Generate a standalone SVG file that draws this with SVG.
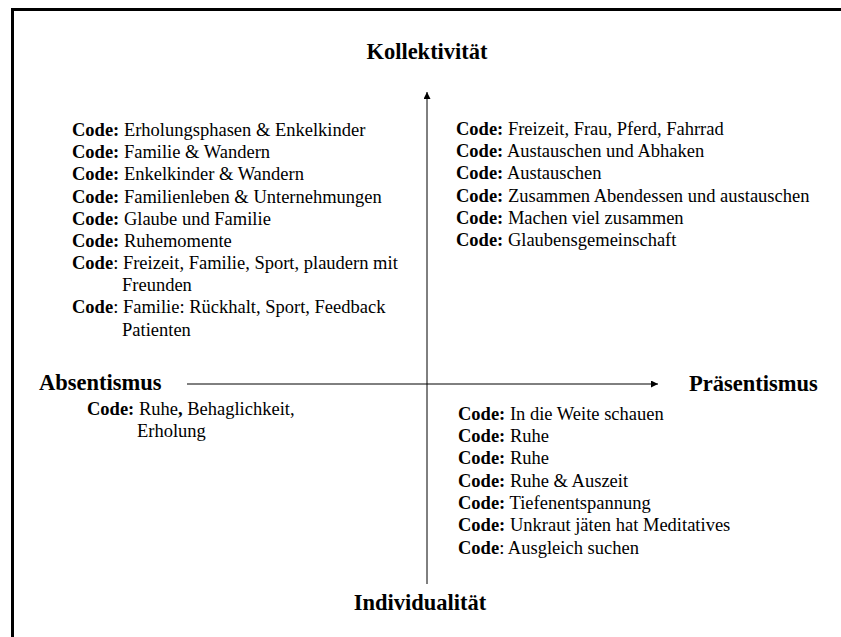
<svg xmlns="http://www.w3.org/2000/svg" width="841" height="637" viewBox="0 0 841 637">
  <defs>
    <marker id="arrow" viewBox="0 0 10 10" refX="10" refY="5" markerWidth="7" markerHeight="7" markerUnits="userSpaceOnUse" orient="auto">
      <path d="M0,0 L10,5 L0,10 z" fill="#000"/>
    </marker>
  </defs>
  <style>
    .frame { fill: none; stroke: #000; stroke-width: 3; }
    .axis { fill: none; stroke: #000; stroke-width: 1; marker-end: url(#arrow); }
    .title { font-family: "Liberation Serif", "Times New Roman", serif; font-size: 22.5px; font-weight: bold; fill: #000; }
    .body { font-family: "Liberation Serif", "Times New Roman", serif; font-size: 18.5px; fill: #000; }
    .b { font-weight: bold; }
  </style>
  <rect width="841" height="637" fill="#fff"/>
  <!-- outer frame: only top and left edges are visible -->
  <path class="frame" d="M12.5,637 L12.5,9.5 L841,9.5"/>

  <!-- axes -->
  <g id="connectors">
    <line class="axis" x1="427" y1="584" x2="427" y2="92"/>
    <line class="axis" x1="187" y1="384" x2="658" y2="384"/>
  </g>

  <!-- axis labels -->
  <g id="kollektivitaet"><text class="title" x="427" y="59" text-anchor="middle">Kollektivität</text></g>
  <g id="individualitaet"><text class="title" x="420" y="610" text-anchor="middle">Individualität</text></g>
  <g id="absentismus"><text class="title" x="39" y="390">Absentismus</text></g>
  <g id="praesentismus"><text class="title" x="689" y="391">Präsentismus</text></g>

  <!-- upper left quadrant -->
  <g id="quadrant-top-left" class="body">
    <text x="72" y="136"><tspan class="b">Code:</tspan> Erholungsphasen &amp; Enkelkinder</text>
    <text x="72" y="158"><tspan class="b">Code:</tspan> Familie &amp; Wandern</text>
    <text x="72" y="180"><tspan class="b">Code:</tspan> Enkelkinder &amp; Wandern</text>
    <text x="72" y="203"><tspan class="b">Code:</tspan> Familienleben &amp; Unternehmungen</text>
    <text x="72" y="225"><tspan class="b">Code:</tspan> Glaube und Familie</text>
    <text x="72" y="247"><tspan class="b">Code:</tspan> Ruhemomente</text>
    <text x="72" y="269"><tspan class="b">Code</tspan>: Freizeit,  Familie, Sport, plaudern mit</text>
    <text x="122" y="291">Freunden</text>
    <text x="72" y="313"><tspan class="b">Code</tspan>: Familie:  Rückhalt, Sport, Feedback</text>
    <text x="122" y="336">Patienten</text>
  </g>

  <!-- upper right quadrant -->
  <g id="quadrant-top-right" class="body">
    <text x="456" y="135"><tspan class="b">Code:</tspan> Freizeit, Frau, Pferd, Fahrrad</text>
    <text x="456" y="157"><tspan class="b">Code:</tspan> Austauschen und Abhaken</text>
    <text x="456" y="179"><tspan class="b">Code:</tspan> Austauschen</text>
    <text x="456" y="202"><tspan class="b">Code:</tspan> Zusammen Abendessen und austauschen</text>
    <text x="456" y="224"><tspan class="b">Code:</tspan> Machen viel  zusammen</text>
    <text x="456" y="246"><tspan class="b">Code:</tspan> Glaubensgemeinschaft</text>
  </g>

  <!-- lower left quadrant -->
  <g id="quadrant-bottom-left" class="body">
    <text x="87" y="415"><tspan class="b">Code:</tspan> Ruhe<tspan class="b">,</tspan> Behaglichkeit,</text>
    <text x="137" y="437">Erholung</text>
  </g>

  <!-- lower right quadrant -->
  <g id="quadrant-bottom-right" class="body">
    <text x="458" y="420"><tspan class="b">Code:</tspan> In die Weite schauen</text>
    <text x="458" y="442"><tspan class="b">Code:</tspan> Ruhe</text>
    <text x="458" y="464"><tspan class="b">Code:</tspan> Ruhe</text>
    <text x="458" y="487"><tspan class="b">Code:</tspan> Ruhe &amp; Auszeit</text>
    <text x="458" y="509"><tspan class="b">Code:</tspan> Tiefenentspannung</text>
    <text x="458" y="531"><tspan class="b">Code:</tspan> Unkraut jäten hat Meditatives</text>
    <text x="458" y="554"><tspan class="b">Code</tspan>: Ausgleich suchen</text>
  </g>
</svg>
